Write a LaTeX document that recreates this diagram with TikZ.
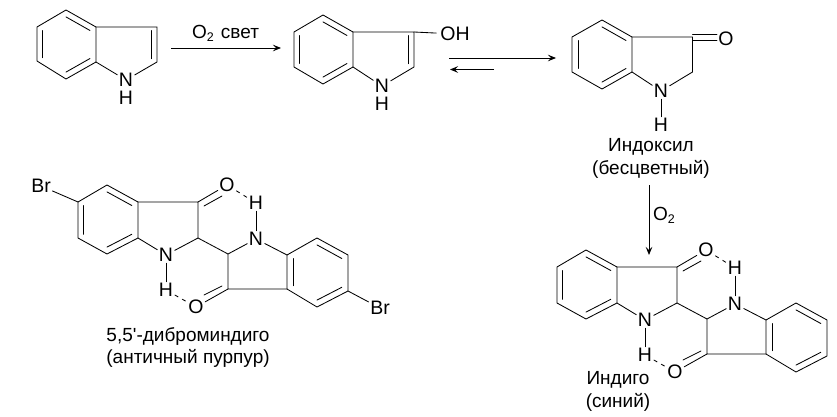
\documentclass[tikz,border=0pt]{standalone}
\usepackage{fontspec}
\setmainfont{Liberation Sans}
\newfontfamily\plainface{Liberation Sans}
\usetikzlibrary{calc,arrows.meta}
\tikzset{
  bond/.style={line width=0.85pt,line cap=round,line join=miter},
  hbond/.style={line width=0.85pt,dash pattern=on 4pt off 4.5pt},
  atom/.style={inner sep=1.5pt,font=\fontsize{19.5}{20}\selectfont},
  caption/.style={inner sep=0pt,font=\fontsize{19}{20}\selectfont},
  react/.style={line width=0.85pt,-{Stealth[length=8pt,width=6.5pt,inset=3pt]}}
}
\newcommand{\subtwo}{\raisebox{-3.5pt}{\fontsize{12.5}{12}\selectfont 2}}
% inner line of a ring double bond: vertices #1,#2, ring centre #3
\newcommand{\inner}[3]{\draw[bond] ($(#1)!0.2!(#3)$) -- ($(#2)!0.2!(#3)$);}
% benzene ring a..f with centre m
\newcommand{\hexa}[7]{%
 \coordinate (#1a) at #2; \coordinate (#1b) at #3; \coordinate (#1c) at #4;
 \coordinate (#1d) at #5; \coordinate (#1e) at #6; \coordinate (#1f) at #7;
 \coordinate (#1m) at ($(#1a)!0.5!(#1d)$);
 \draw[bond] (#1a)--(#1b)--(#1c)--(#1d)--(#1e)--(#1f)--cycle;}
% indigo skeleton
\newcommand{\indigoskel}[1]{%
 \hexa{#1L}{(107,185)}{(138,202)}{(138,238)}{(107,254)}{(78,238)}{(78,202)}
 \inner{#1La}{#1Lb}{#1Lm}\inner{#1Lc}{#1Ld}{#1Lm}\inner{#1Le}{#1Lf}{#1Lm}
 \hexa{#1R}{(317,238)}{(348,255)}{(348,291)}{(317,307)}{(287,289)}{(287,255)}
 \inner{#1Ra}{#1Rb}{#1Rm}\inner{#1Rc}{#1Rd}{#1Rm}\inner{#1Re}{#1Rf}{#1Rm}
 \coordinate (#1C3) at (198,202); \coordinate (#1C2) at (198,238);
 \coordinate (#1D2) at (228,254); \coordinate (#1D3) at (228,289);
 \node[atom] (#1N1) at (166,255) {N};
 \node[atom] (#1H1) at (166,290) {H};
 \node[atom] (#1N2) at (256,239) {N};
 \node[atom] (#1H2) at (256,203) {H};
 \node[atom] (#1O1) at (227,185) {O};
 \node[atom] (#1O2) at (196,307) {O};
 \coordinate (#1p1) at (204,206); \coordinate (#1q1) at (222,196);
 \coordinate (#1p2) at (222,286); \coordinate (#1q2) at (204,295);
 \draw[bond] (#1Lb)--(#1C3)--(#1C2)--(#1D2)--(#1D3)--(#1Re);
 \draw[bond] (#1Lc)--(#1N1)--(#1C2);
 \draw[bond] (#1D2)--(#1N2)--(#1Rf);
 \draw[bond] (#1N1)--(#1H1);
 \draw[bond] (#1N2)--(#1H2);
 \draw[bond] (#1C3)--(#1O1);
 \draw[bond] (#1p1)--(#1q1);
 \draw[bond] (#1D3)--(#1O2);
 \draw[bond] (#1p2)--(#1q2);
 \draw[hbond] (#1O1)--(#1H2);
 \draw[hbond] (#1H1)--(#1O2);
}
\begin{document}
\begin{tikzpicture}[x=1pt,y=-1pt]
\useasboundingbox (0,0) rectangle (837,417);

% indole
\hexa{A}{(66,10)}{(96,27)}{(96,62)}{(66,79)}{(37,61)}{(37,27)}
\inner{Aa}{Ab}{Am}\inner{Ac}{Ad}{Am}\inner{Ae}{Af}{Am}
\coordinate (A3) at (157,27); \coordinate (A2) at (157,62);
\coordinate (Ac5) at (127,45);
\node[atom] (AN) at (126,80) {N};
\node[atom,inner sep=0pt] (AH) at (126,97.5) {H};
\draw[bond] (Ab)--(A3)--(A2)--(AN)--(Ac);
\inner{A3}{A2}{Ac5}

% 3-hydroxyindole
\hexa{B}{(323,15)}{(353,32)}{(353,67)}{(323,84)}{(294,67)}{(294,32)}
\inner{Ba}{Bb}{Bm}\inner{Bc}{Bd}{Bm}\inner{Be}{Bf}{Bm}
\coordinate (B3) at (414,32); \coordinate (B2) at (414,67);
\coordinate (Bc5) at (384,50);
\node[atom] (BN) at (382,86) {N};
\node[atom,inner sep=0pt] (BH) at (382,103.5) {H};
\node[atom,inner xsep=4pt] (BOH) at (455,34) {OH};
\draw[bond] (Bb)--(B3)--(B2)--(BN)--(Bc);
\draw[bond] (B3)--(BOH);
\inner{B3}{B2}{Bc5}

% indoxyl
\hexa{C}{(602,20)}{(632,37)}{(632,72)}{(602,89)}{(572,72)}{(572,37)}
\inner{Ca}{Cb}{Cm}\inner{Cc}{Cd}{Cm}\inner{Ce}{Cf}{Cm}
\coordinate (C3) at (692.5,37); \coordinate (C2) at (692.5,72);
\node[atom] (CN) at (661,91) {N};
\node[atom] (CH) at (661,125) {H};
\node[atom] (CO) at (726,39) {O};
\coordinate (Cp1) at (692.5,34.3); \coordinate (Cq1) at (717,34.3);
\coordinate (Cp2) at (692.5,40.7); \coordinate (Cq2) at (717,40.7);
\draw[bond] (Cb)--(C3)--(C2)--(CN)--(Cc);
\draw[bond] (CN)--(CH);
\draw[bond] (Cp1)--(Cq1);
\draw[bond] (Cp2)--(Cq2);
\node[caption] (Clab1) at (651,147) {Индоксил};
\node[caption] (Clab2) at (651,169) {(бесцветный)};

% arrows
\coordinate (r1a) at (171,48); \coordinate (r1b) at (281,48);
\draw[react] (r1a)--(r1b);
\node[caption,anchor=base west] (r1l) at (192,38.5) {O\subtwo\hspace{7pt}свет};
\coordinate (r2a) at (449,58); \coordinate (r2b) at (556,58);
\draw[react] (r2a)--(r2b);
\coordinate (r3a) at (494,69.5); \coordinate (r3b) at (450,69.5);
\draw[react] (r3a)--(r3b);
\coordinate (r4a) at (649,185); \coordinate (r4b) at (649,255);
\draw[react] (r4a)--(r4b);
\node[caption,anchor=base west] (r4l) at (653,220) {O\subtwo};

% 5,5'-dibromoindigo
\indigoskel{X}
\node[atom] (XBr1) at (41,186) {Br};
\node[atom] (XBr2) at (380,308) {Br};
\draw[bond] (XBr1)--(XLf);
\draw[bond] (XRc)--(XBr2);
\node[caption] (Xlab1) at (188,337) {5,5{\plainface '}-диброминдиго};
\node[caption] (Xlab2) at (188,358) {(античный пурпур)};

% indigo
\begin{scope}[shift={(479,65)}]
\indigoskel{Y}
\end{scope}
\node[caption] (Ylab1) at (618,380) {Индиго};
\node[caption] (Ylab2) at (618,402) {(синий)};
\end{tikzpicture}
\end{document}
